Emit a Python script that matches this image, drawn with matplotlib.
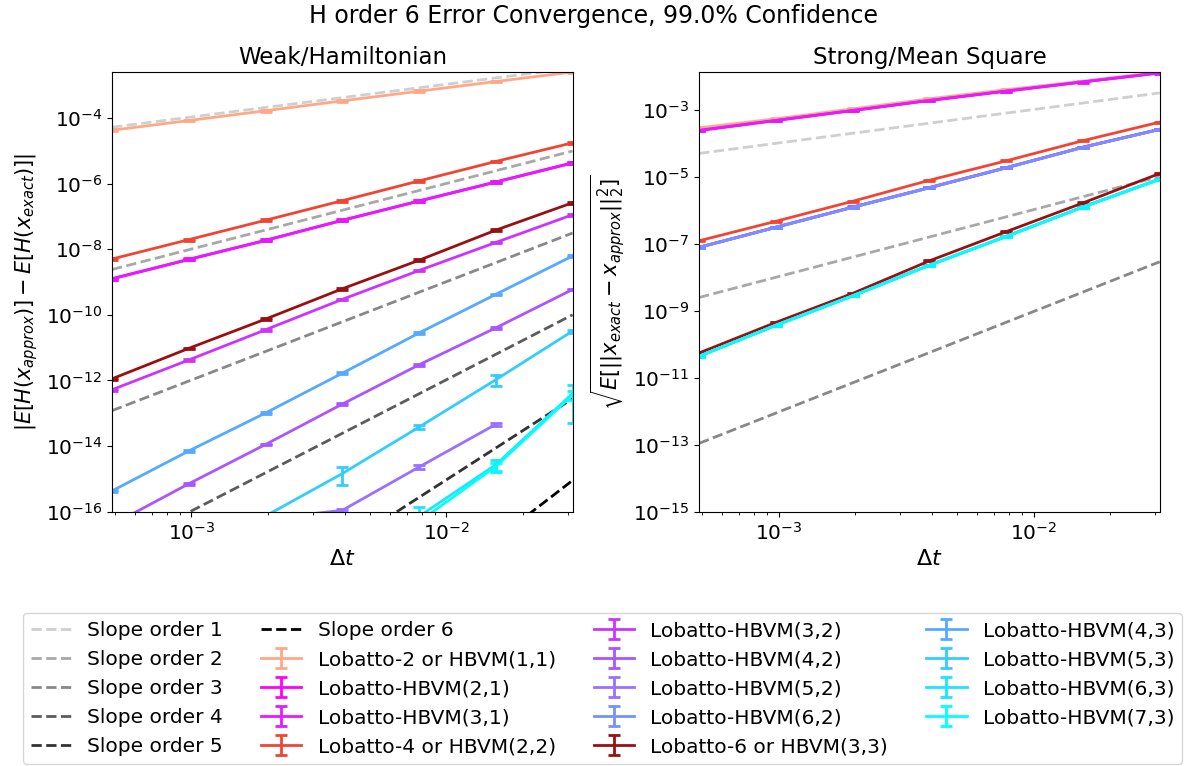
import matplotlib.pyplot as plt
import numpy as np

nan = np.nan

# time steps
dt = [1/2048, 1/1024, 1/512, 1/256, 1/128, 1/64, 1/32]

method_labels = ['Lobatto-2 or HBVM(1,1)', 'Lobatto-HBVM(2,1)', 'Lobatto-HBVM(3,1)',
                 'Lobatto-4 or HBVM(2,2)', 'Lobatto-HBVM(3,2)', 'Lobatto-HBVM(4,2)',
                 'Lobatto-HBVM(5,2)', 'Lobatto-HBVM(6,2)', 'Lobatto-6 or HBVM(3,3)',
                 'Lobatto-HBVM(4,3)', 'Lobatto-HBVM(5,3)', 'Lobatto-HBVM(6,3)',
                 'Lobatto-HBVM(7,3)']
method_colors = ['#ffa888', '#ff00ff', '#e61aff', '#f04533', '#cc33ff', '#aa55ff',
                 '#9970ff', '#7790ff', '#9a1012', '#55aaff', '#33ccff', '#1ae6ff',
                 '#00ffff']

# weak / hamiltonian error
weak_l2 = [4.2e-5, 8.3e-5, 1.65e-4, 3.3e-4, 6.5e-4, 1.28e-3, 2.5e-3]
weak_h21 = [1.26e-9, 4.9e-9, 1.86e-8, 7.6e-8, 2.95e-7, 1.12e-6, 4.3e-6]
weak_h31 = [1.24e-9, 4.8e-9, 1.84e-8, 7.5e-8, 2.9e-7, 1.1e-6, 4.2e-6]
weak_l4 = [5.0e-9, 1.95e-8, 7.6e-8, 3.0e-7, 1.2e-6, 4.7e-6, 1.74e-5]
weak_h32 = [5.2e-13, 4.2e-12, 3.5e-11, 2.95e-10, 2.24e-9, 1.6e-8, 1.12e-7]
weak_h42 = [4.0e-17, 7.1e-16, 1.12e-14, 1.9e-13, 3.0e-12, 4.0e-11, 5.9e-10]
weak_h52 = [3e-19, 4e-18, 6e-17, 1.1e-16, 2.3e-15, 4.6e-14, nan]
weak_h62 = None
weak_l6 = [1.12e-12, 9.5e-12, 7.4e-11, 6.2e-10, 4.6e-9, 3.8e-8, 2.6e-7]
weak_h43 = [4.3e-16, 7.1e-15, 1.02e-13, 1.66e-12, 2.8e-11, 4.2e-10, 6.2e-9]
weak_h53 = [3e-18, 1.3e-17, 7.4e-17, 1.45e-15, 3.8e-14, 1.05e-12, 3.2e-11]
weak_h63 = [1e-18, 2e-18, 5e-18, 1.2e-17, 7.2e-17, 2.7e-15, 4.0e-13]
weak_h73 = [1e-18, 2e-18, 4e-18, 1e-17, 5e-17, 2.4e-15, 3.6e-13]

# relative half width of the confidence intervals (weak)
weak_rel_small = [0.06, 0.06, 0.06, 0.06, 0.06, 0.06, 0.06]
weak_rel_h52 = [0.1, 0.1, 0.1, 0.12, 0.12, 0.12, nan]
weak_rel_h53 = [0.1, 0.1, 0.2, 0.55, 0.15, 0.35, 0.1]
weak_rel_h63 = [0.1, 0.1, 0.1, 0.2, 0.9, 0.4, 0.87]
weak_rel_h73 = [0.1, 0.1, 0.1, 0.2, 0.3, 0.3, 0.3]

# strong / mean square error
strong_l2 = [2.9e-4, 5.4e-4, 1.07e-3, 2.14e-3, 4.0e-3, 7.2e-3, 1.35e-2]
strong_h21 = [2.4e-4, 4.8e-4, 9.5e-4, 1.9e-3, 3.6e-3, 6.8e-3, 1.26e-2]
strong_h31 = [2.45e-4, 4.85e-4, 9.6e-4, 1.92e-3, 3.65e-3, 6.85e-3, 1.27e-2]
strong_l4 = [1.23e-7, 4.7e-7, 1.86e-6, 7.9e-6, 3.0e-5, 1.2e-4, 4.3e-4]
strong_h32 = [7.9e-8, 3.15e-7, 1.25e-6, 4.8e-6, 1.88e-5, 7.7e-5, 2.65e-4]
strong_h42 = [7.85e-8, 3.12e-7, 1.24e-6, 4.75e-6, 1.87e-5, 7.65e-5, 2.62e-4]
strong_h52 = [7.8e-8, 3.1e-7, 1.23e-6, 4.7e-6, 1.86e-5, 7.6e-5, 2.6e-4]
strong_h62 = [7.8e-8, 3.1e-7, 1.23e-6, 4.7e-6, 1.86e-5, 7.6e-5, 2.6e-4]
strong_l6 = [5.5e-11, 4.5e-10, 3.3e-9, 3.1e-8, 2.3e-7, 1.66e-6, 1.26e-5]
strong_h43 = [4.4e-11, 3.7e-10, 2.8e-9, 2.3e-8, 1.66e-7, 1.26e-6, 8.5e-6]
strong_h53 = [4.4e-11, 3.7e-10, 2.8e-9, 2.3e-8, 1.66e-7, 1.26e-6, 8.5e-6]
strong_h63 = [4.4e-11, 3.7e-10, 2.8e-9, 2.3e-8, 1.66e-7, 1.26e-6, 8.5e-6]
strong_h73 = [4.4e-11, 3.7e-10, 2.8e-9, 2.3e-8, 1.66e-7, 1.26e-6, 8.5e-6]
strong_rel = [0.04, 0.04, 0.04, 0.04, 0.04, 0.04, 0.04]

# reference slope lines, values at the first and last dt
slope_orders = [1, 2, 3, 4, 5, 6]
slope_colors = ['#cfcfcf', '#a8a8a8', '#888888', '#5c5c5c', '#333333', '#000000']
weak_slope_start = [5.2e-5, 2.4e-9, 1.2e-13, 6.0e-18, 2.6e-22, 1.3e-26]
weak_slope_end = [3.3e-3, 9.8e-6, 3.1e-8, 1.0e-10, 2.8e-13, 9.0e-16]
strong_slope_start = [5.0e-5, 2.5e-9, 1.1e-13]
strong_slope_end = [3.2e-3, 1.02e-5, 2.9e-8]

weak_vals = [weak_l2, weak_h21, weak_h31, weak_l4, weak_h32, weak_h42, weak_h52,
             weak_h62, weak_l6, weak_h43, weak_h53, weak_h63, weak_h73]
weak_rels = [weak_rel_small] * 6 + [weak_rel_h52] + [weak_rel_small] * 3 + \
            [weak_rel_h53, weak_rel_h63, weak_rel_h73]
strong_vals = [strong_l2, strong_h21, strong_h31, strong_l4, strong_h32, strong_h42,
               strong_h52, strong_h62, strong_l6, strong_h43, strong_h53, strong_h63,
               strong_h73]

plt.rcParams['font.size'] = 14.5

fig = plt.figure(figsize=(11.87, 7.66), dpi=100)
ax_w = fig.add_axes([0.0944, 0.332, 0.388, 0.574])
ax_s = fig.add_axes([0.589, 0.332, 0.388, 0.574])


def draw_slopes(ax, starts, ends):
    handles = []
    for p, c, y0, y1 in zip(slope_orders, slope_colors, starts, ends):
        h, = ax.plot([dt[0], dt[-1]], [y0, y1], '--', color=c, lw=2,
                     label=f'Slope order {p}')
        handles.append(h)
    return handles


def draw_methods(ax, vals, rels):
    handles = []
    for lab, c, v, r in zip(method_labels, method_colors, vals, rels):
        if v is None:
            handles.append(None)
            continue
        v = np.array(v)
        err = v * np.array(r)
        h = ax.errorbar(dt, v, yerr=err, color=c, lw=2, elinewidth=2,
                        capsize=4.5, capthick=2, label=lab)
        handles.append(h)
    return handles


slope_handles = draw_slopes(ax_w, weak_slope_start, weak_slope_end)
draw_methods(ax_w, weak_vals, weak_rels)
draw_slopes(ax_s, strong_slope_start, strong_slope_end)
method_handles = draw_methods(ax_s, strong_vals, [strong_rel] * len(strong_vals))

for ax in (ax_w, ax_s):
    ax.set_xscale('log')
    ax.set_yscale('log')
    ax.set_xlim(dt[0], dt[-1])
    ax.set_xlabel(r'$\Delta t$', fontsize=16)
    ax.tick_params(labelsize=14.5)

ax_w.set_ylim(1e-16, max(weak_l2))
ax_w.set_yticks([1e-16, 1e-14, 1e-12, 1e-10, 1e-8, 1e-6, 1e-4])
ax_w.set_title('Weak/Hamiltonian', fontsize=16.5)
ax_w.set_ylabel(r'$|E[H(x_{approx})] - E[H(x_{exact})]|$', fontsize=15)

ax_s.set_ylim(1e-15, max(strong_l2))
ax_s.set_yticks([1e-15, 1e-13, 1e-11, 1e-9, 1e-7, 1e-5, 1e-3])
ax_s.set_title('Strong/Mean Square', fontsize=16.5)
ax_s.set_ylabel(r'$\sqrt{E[||x_{exact} - x_{approx}||_2^2]}$', fontsize=15)

fig.suptitle('H order 6 Error Convergence, 99.0% Confidence', fontsize=17, y=0.995)

handles = slope_handles + method_handles
labels = [h.get_label() for h in slope_handles] + method_labels
fig.legend(handles, labels, loc='lower center', ncol=4, fontsize=14.5,
           columnspacing=1.9, labelspacing=0.5, borderaxespad=0,
           bbox_to_anchor=(0.5076, 0.002))

fig.savefig('out.png', dpi=100)
